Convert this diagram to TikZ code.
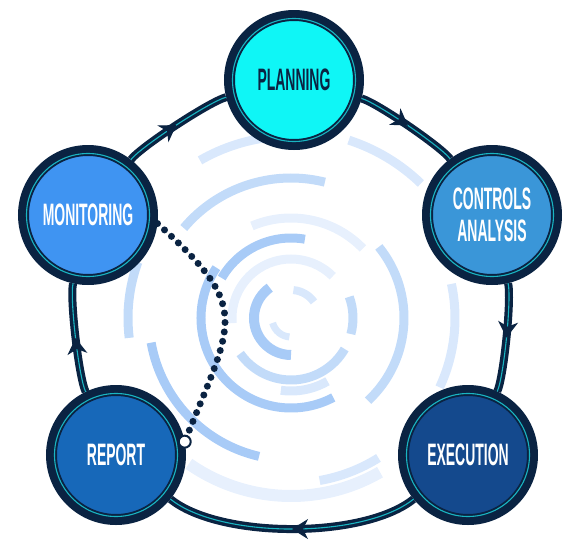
\documentclass[tikz,border=0pt]{standalone}
\usepackage{fontspec}
\newfontfamily\stagefont[FakeStretch=0.45]{Liberation Sans}
\usetikzlibrary{arrows.meta,decorations.markings}

\definecolor{navy}{HTML}{0A2342}
\definecolor{ringteal}{HTML}{19B5C2}
\definecolor{plancyan}{HTML}{0FF6F6}
\definecolor{monblue}{HTML}{3F94F2}
\definecolor{ctrlblue}{HTML}{3A96D8}
\definecolor{repblue}{HTML}{1768B9}
\definecolor{exeblue}{HTML}{14498D}
\definecolor{arcA}{HTML}{A8CBF7}
\definecolor{arcB}{HTML}{C2DBF9}
\definecolor{arcC}{HTML}{D9E8FC}
\definecolor{arcD}{HTML}{E7F0FD}

\tikzset{
  stage/.style={circle, draw=navy, line width=11pt, minimum size=129pt, inner sep=0pt,
    align=center, text=white, font=\stagefont\bfseries\fontsize{31}{32}\selectfont},
  innerring/.style={draw=ringteal, line width=1.1pt},
  flowarc/.style={draw=navy, line width=8pt,
    postaction={draw=ringteal, line width=1.1pt},
    postaction={decorate, decoration={markings, mark=at position 0.5 with
      {\arrow[navy, line width=1pt]{Stealth[length=16pt,width=20pt,inset=5pt]}}}}},
  dotline/.style={draw=navy, line width=7pt, line cap=round, dash pattern=on 0pt off 9.5pt},
  dotend/.style={circle, draw=navy, fill=white, line width=2pt, minimum size=12pt, inner sep=0pt},
  band/.style={line width=9pt}
}

\begin{document}
\begin{tikzpicture}[x=1pt, y=1pt]
        \useasboundingbox (0,0) rectangle (582,-552);
        \coordinate (c) at (291,-318);

        % background bands
        \draw[band, arcA, line width=10pt] (c) ++(125:37) arc[start angle=125, end angle=270, radius=37];
        \draw[band, arcC, line width=8pt] (c) ++(35:28) arc[start angle=35, end angle=85, radius=28];
        \draw[band, arcC, line width=7pt] (c) ++(195:19) arc[start angle=195, end angle=265, radius=19];
        \draw[band, arcB] (c) ++(-15:62) arc[start angle=-15, end angle=20, radius=62];
        \draw[band, arcD] (c) ++(45:59) arc[start angle=45, end angle=185, radius=59];
        \draw[band, arcB] (c) ++(215:62) arc[start angle=215, end angle=330, radius=62];
        \draw[band, arcA] (c) ++(80:80) arc[start angle=80, end angle=150, radius=80];
        \draw[band, arcA] (c) ++(146:90) arc[start angle=146, end angle=298, radius=90];
        \draw[band, arcC] (c) ++(262:73) arc[start angle=262, end angle=300, radius=73];
        \draw[band, arcB] (c) ++(-47:113) arc[start angle=-47, end angle=39, radius=113];
        \draw[band, arcD] (c) ++(44:100) arc[start angle=44, end angle=113, radius=100];
        \draw[band, arcB] (c) ++(76:140) arc[start angle=76, end angle=140, radius=140];
        \draw[band, arcA] (c) ++(190:142) arc[start angle=190, end angle=257, radius=142];
        \draw[band, arcB] (c) ++(160:163) arc[start angle=160, end angle=187, radius=163];
        \draw[band, arcC] (c) ++(-25:164) arc[start angle=-25, end angle=12, radius=164];
        \draw[band, arcC] (c) ++(280:165) arc[start angle=280, end angle=302, radius=165];
        \draw[band, arcD, line width=12pt] (c) ++(235:178) arc[start angle=235, end angle=300, radius=178];
        \draw[band, arcC] (c) ++(95:182) arc[start angle=95, end angle=120, radius=182];
        \draw[band, arcC] (c) ++(46:187) arc[start angle=46, end angle=72, radius=187];

        \node[stage, fill=plancyan, text=navy] (plan) at (294,-80) {PLANNING};
        \node[stage, fill=ctrlblue] (ctrl) at (492,-215) {CONTROLS\\ANALYSIS};
        \node[stage, fill=exeblue] (exe) at (468,-455) {EXECUTION};
        \node[stage, fill=repblue] (rep) at (116,-455) {REPORT};
        \node[stage, fill=monblue] (mon) at (88,-215) {MONITORING};
        \draw[innerring] (plan.center) circle[radius=61.5];
        \draw[innerring] (ctrl.center) circle[radius=61.5];
        \draw[innerring] (exe.center) circle[radius=61.5];
        \draw[innerring] (rep.center) circle[radius=61.5];
        \draw[innerring] (mon.center) circle[radius=61.5];

        \draw[flowarc] (plan) to[bend left=19, looseness=0.37] (ctrl);
        \draw[flowarc] (ctrl) to[bend left=19, looseness=0.37] (exe);
        \draw[flowarc] (exe) to[bend left=39, looseness=0.67] (rep);
        \draw[flowarc] (rep) to[bend left=19, looseness=0.37] (mon);
        \draw[flowarc] (mon) to[bend left=19, looseness=0.37] (plan);

        \node[dotend] (tip) at (rep.11) {};
        \draw[dotline] (mon.-7) to[out=-42, in=68, looseness=1.5] (tip);
    \end{tikzpicture}
\end{document}
